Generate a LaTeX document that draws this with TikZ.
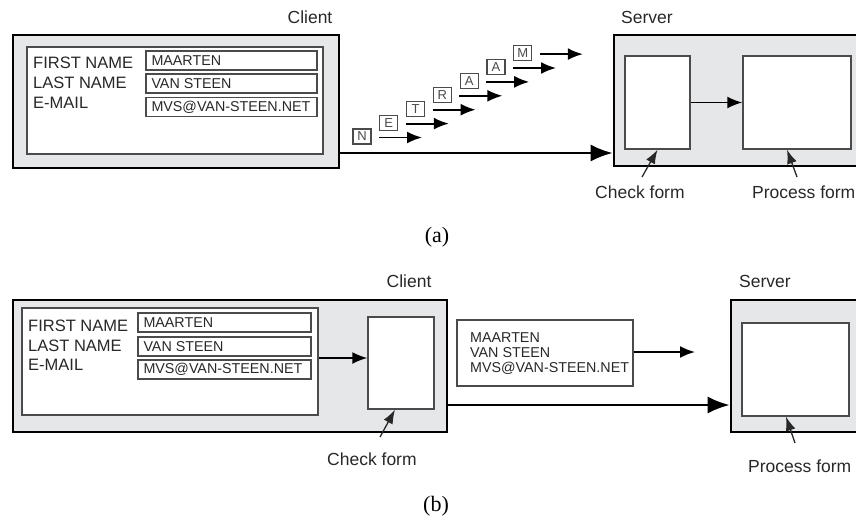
\documentclass[tikz,border=0pt]{standalone}
\usepackage{fontspec}
\setmainfont{Liberation Sans}
\newfontfamily\captionserif{Liberation Serif}
\usetikzlibrary{arrows.meta}
\definecolor{boxgray}{RGB}{229,231,233}
\definecolor{ink}{RGB}{40,40,40}
\definecolor{edge}{RGB}{75,75,75}
\begin{document}
\begin{tikzpicture}[x=1pt,y=-1pt,
  outer/.style={draw=black, line width=2.6pt, fill=boxgray, rectangle, inner sep=0pt},
  panel/.style={draw=edge, line width=1.4pt, fill=white, rectangle, inner sep=0pt},
  field/.style={draw=edge, line width=1.4pt, fill=white, rectangle, inner sep=0pt, minimum height=19pt},
  fieldtext/.style={font=\fontsize{14.3}{16}\selectfont, text=ink, inner sep=0pt, anchor=west},
  labeltext/.style={font=\fontsize{16.5}{18}\selectfont, text=ink, inner sep=0pt, anchor=base west},
  titletext/.style={font=\fontsize{17.5}{20}\selectfont, text=ink, inner sep=0pt},
  captiontext/.style={font=\captionserif\fontsize{22}{24}\selectfont, text=black, inner sep=0pt},
  packet/.style={draw=edge, line width=1.2pt, fill=white, rectangle, inner sep=1pt,
    minimum width=18pt, minimum height=15pt, font=\fontsize{13}{14}\selectfont, text=edge},
  mainarrow/.style={draw=black, line width=2.6pt, -{Latex[length=22pt,width=17pt]}},
  midarrow/.style={draw=black, line width=1.8pt, -{Latex[length=15pt,width=12pt]}},
  thinarrow/.style={draw=ink, line width=1.3pt, -{Latex[length=14pt,width=10pt]}}
]
\useasboundingbox (0,0) rectangle (856,525);
\clip (0,0) rectangle (856,525);

% ---------------- (a) ----------------
\node[outer, minimum width=326pt, minimum height=133pt] (clientA) at (176,101.5) {};
\node[panel, minimum width=296pt, minimum height=107pt] (panelA) at (175,100.5) {};
\node[field, minimum width=171pt] (fa1) at (231.5,60.5) {};
\node[field, minimum width=171pt] (fa2) at (231.5,83.5) {};
\node[field, minimum width=171pt] (fa3) at (231.5,107) {};
\node[fieldtext] (ta1) at ([xshift=6pt]fa1.west) {MAARTEN};
\node[fieldtext] (ta2) at ([xshift=6pt]fa2.west) {VAN STEEN};
\node[fieldtext] (ta3) at ([xshift=6pt]fa3.west) {MVS@VAN-STEEN.NET};
\node[labeltext] (la1) at (33,68) {FIRST NAME};
\node[labeltext] (la2) at (33,88) {LAST NAME};
\node[labeltext] (la3) at (33,108) {E-MAIL};
\node[titletext, anchor=base] (clientAlabel) at (310,23) {Client};

\node[outer, minimum width=248pt, minimum height=131pt] (serverA) at (738,100.5) {};
\node[panel, minimum width=65pt, minimum height=93pt] (checkA) at (657.5,102.5) {};
\node[panel, minimum width=108pt, minimum height=93pt] (processA) at (797,102.5) {};
\node[titletext, anchor=base] (serverAlabel) at (647,23) {Server};
\node[titletext, anchor=base west] (checkAlabel) at (595,198) {Check form};
\node[titletext, anchor=base west] (processAlabel) at (752,198) {Process form};

\coordinate (ya) at (0,153);
\draw[mainarrow] (clientA.east |- ya) -- (serverA.west |- ya);
\draw[midarrow] (checkA.east) -- (processA.west);
\coordinate (cka) at (642,177);
\coordinate (pra) at (797,177);
\draw[thinarrow] (cka) -- (checkA.south);
\draw[thinarrow] (pra) -- ([xshift=-10pt]processA.south);

\foreach \i/\l in {0/N,1/E,2/T,3/R,4/A,5/A,6/M} {
  \pgfmathsetmacro\sx{379+26.8*\i}
  \pgfmathsetmacro\sy{137.5-13.9*\i}
  \node[packet] (p\i) at (\sx-17,\sy-1) {\l};
  \coordinate (ps\i) at (\sx,\sy);
  \coordinate (pe\i) at (\sx+43,\sy);
  \draw[midarrow] (ps\i) -- (pe\i);
}

\node[captiontext] (capa) at (437,237) {(a)};

% ---------------- (b) ----------------
\node[outer, minimum width=434pt, minimum height=132pt] (clientB) at (230,366) {};
\node[panel, minimum width=296pt, minimum height=107pt] (panelB) at (170,361.5) {};
\node[field, minimum width=173pt] (fb1) at (224.5,322.5) {};
\node[field, minimum width=173pt] (fb2) at (224.5,346.5) {};
\node[field, minimum width=173pt] (fb3) at (224.5,369.5) {};
\node[fieldtext] (tb1) at ([xshift=6pt]fb1.west) {MAARTEN};
\node[fieldtext] (tb2) at ([xshift=6pt]fb2.west) {VAN STEEN};
\node[fieldtext] (tb3) at ([xshift=6pt]fb3.west) {MVS@VAN-STEEN.NET};
\node[labeltext] (lb1) at (28,331) {FIRST NAME};
\node[labeltext] (lb2) at (28,351) {LAST NAME};
\node[labeltext] (lb3) at (28,370) {E-MAIL};
\node[panel, minimum width=66pt, minimum height=92pt] (checkB) at (401,363) {};
\node[titletext, anchor=base] (clientBlabel) at (409,287) {Client};
\node[titletext, anchor=base west] (checkBlabel) at (327,465) {Check form};

\node[panel, minimum width=176pt, minimum height=66pt] (msg) at (545,353) {};
\node[fieldtext, anchor=base west] (m1) at (470,342) {MAARTEN};
\node[fieldtext, anchor=base west] (m2) at (470,357) {VAN STEEN};
\node[fieldtext, anchor=base west] (m3) at (470,372) {MVS@VAN-STEEN.NET};

\node[outer, minimum width=131pt, minimum height=132pt] (serverB) at (796.5,366) {};
\node[panel, minimum width=107pt, minimum height=93pt] (processB) at (795.5,369.5) {};
\node[titletext, anchor=base] (serverBlabel) at (765,287) {Server};
\node[titletext, anchor=base west] (processBlabel) at (748,472) {Process form};

\coordinate (yb1) at (0,358);
\draw[midarrow] (panelB.east |- yb1) -- (checkB.west |- yb1);
\coordinate (msgend) at (695,352);
\draw[midarrow] (msg.east |- msgend) -- (msgend);
\coordinate (yb) at (0,405);
\draw[mainarrow] (clientB.east |- yb) -- (serverB.west |- yb);
\coordinate (ckb) at (380,437);
\coordinate (prb) at (795,443);
\draw[thinarrow] (ckb) -- ([xshift=-6pt]checkB.south);
\draw[thinarrow] (prb) -- ([xshift=-9.5pt]processB.south);

\node[captiontext] (capb) at (436,506) {(b)};
\end{tikzpicture}
\end{document}
